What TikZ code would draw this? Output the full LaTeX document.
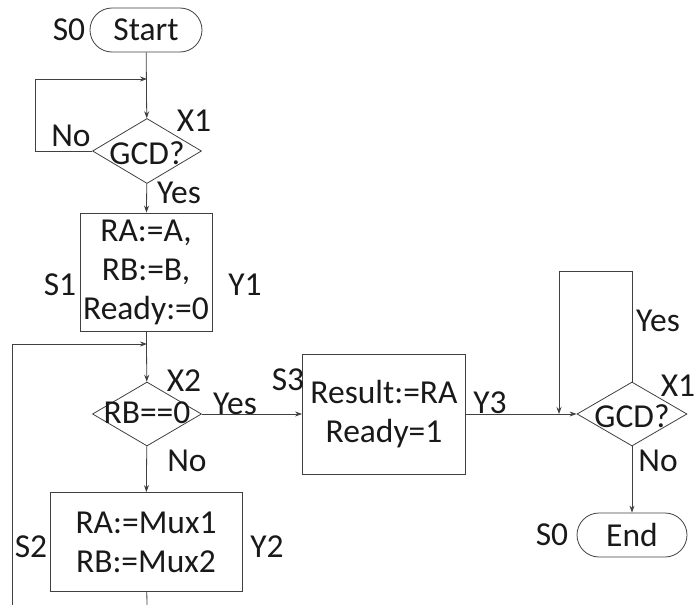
\documentclass[tikz,border=0pt]{standalone}
\usepackage{fontspec}
\setmainfont{Carlito}
\usetikzlibrary{shapes.geometric,arrows.meta}
\begin{document}
\begin{tikzpicture}[x=1pt,y=-1pt,
  every node/.style={font=\fontsize{33.5}{39}\selectfont, text=black!90},
  ln/.style={draw=black!75, line width=0.8pt},
  arr/.style={ln, -{Stealth[length=7pt,width=5pt]}},
  term/.style={ln, rectangle, rounded corners=22pt, minimum width=112pt, minimum height=44pt, inner sep=0pt},
  procbox/.style={ln, rectangle, inner sep=0pt, align=center},
  dia/.style={ln, diamond, inner sep=0pt, minimum width=109pt, minimum height=65pt},
  lbl/.style={inner sep=0pt}]
\useasboundingbox (0,0) rectangle (697,605);
% nodes
\node[term] (start) at (146,30) {Start};
\node[dia] (d1) at (147,151) {};
\node[lbl] (t1) at (147,153) {GCD?};
\node[procbox, minimum width=132pt, minimum height=118pt] (s1) at (146,272) {RA:=A,\\RB:=B,\\Ready:=0};
\node[dia, minimum height=64pt] (d2) at (147,414) {};
\node[lbl] (t2) at (147,413) {RB==0};
\node[procbox, minimum width=192pt, minimum height=99pt] (s2) at (146,542) {RA:=Mux1\\RB:=Mux2};
\node[procbox, minimum width=163pt, minimum height=120pt] (s3) at (384,414) {Result:=RA\\Ready=1};
\node[dia, minimum width=110pt, minimum height=64pt] (d3) at (632,414) {};
\node[lbl] (t3) at (632,416) {GCD?};
\node[term, minimum width=110pt] (end) at (632,535) {End};
% labels
\node[lbl] (lS0a) at (69,30) {S0};
\node[lbl] (lNo1) at (71,136) {No};
\node[lbl] (lX1a) at (194,121) {X1};
\node[lbl] (lYes1) at (179,193) {Yes};
\node[lbl] (lS1) at (60,285) {S1};
\node[lbl] (lY1) at (245,285) {Y1};
\node[lbl] (lX2) at (184,381) {X2};
\node[lbl] (lYes2) at (235,404) {Yes};
\node[lbl] (lNo2) at (187,461) {No};
\node[lbl] (lS2) at (31,547) {S2};
\node[lbl] (lY2) at (267,547) {Y2};
\node[lbl] (lS3) at (288,380) {S3};
\node[lbl] (lY3) at (490,403) {Y3};
\node[lbl] (lX1b) at (678,386) {X1};
\node[lbl] (lYes3) at (658,321) {Yes};
\node[lbl] (lNo3) at (658,461) {No};
\node[lbl] (lS0b) at (552,535) {S0};
% coordinates
\coordinate (j1) at (147,79);
\coordinate (c1) at (35,151);
\coordinate (j2) at (147,344);
\coordinate (b1) at (12,605);
\coordinate (b2) at (147,605);
\coordinate (c3) at (632,271);
\coordinate (j3) at (559,414);
% connectors
\draw[arr] (start) -- (d1);
\draw[arr] (d1.west) -- (c1) |- (j1);
\draw[arr] (d1) -- (s1);
\draw[arr] (s1) -- (d2);
\draw[arr] (b1) |- (j2);
\draw[arr] (d2) -- (s2);
\draw[ln] (s2) -- (b2);
\draw[arr] (d2.east) -- (s3.west);
\draw[arr] (s3.east) -- (d3.west);
\draw[arr] (d3.north) -- (c3) -| (j3);
\draw[arr] (d3) -- (end);
\end{tikzpicture}
\end{document}
